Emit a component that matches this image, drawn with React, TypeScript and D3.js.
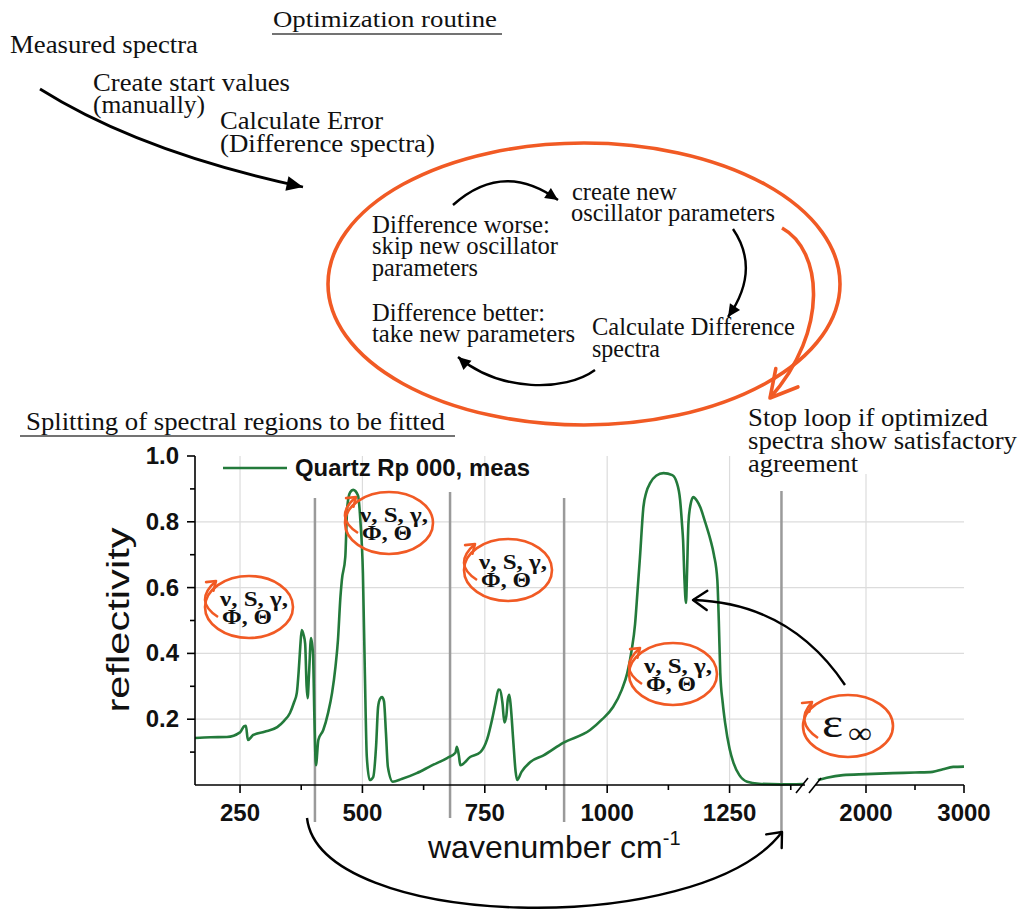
import React from 'react';
import * as d3 from 'd3';

// Measured reflectivity of quartz (Rp), low-wavenumber part of the broken axis
const lowWavenumber = [
  158, 190, 223, 250, 258, 262, 266, 277, 300, 326, 340, 352, 360, 366, 370, 373, 376, 380, 383, 386,
  388, 391, 395, 399, 402, 405, 410, 420, 430, 438, 445, 450, 455, 458, 465, 469, 475, 481, 491, 496,
  501, 505, 509, 515, 522, 528, 532, 536, 540, 544, 548, 552, 562, 580, 611, 640, 673, 690, 693, 697,
  700, 720, 741, 755, 765, 772, 778, 781, 786, 790, 794, 797, 800, 803, 808, 813, 816, 825, 843, 870,
  910, 965, 990, 1012, 1030, 1041, 1050, 1057, 1062, 1067, 1074, 1080, 1088, 1100, 1115, 1133, 1142, 1149, 1153, 1155,
  1158, 1161, 1163, 1166, 1170, 1176, 1183, 1190, 1200, 1211, 1218, 1225, 1228, 1231, 1236, 1241, 1250, 1258, 1270, 1286,
  1310, 1354, 1400,
];
const lowReflectivity = [
  0.143, 0.145, 0.146, 0.16, 0.178, 0.18, 0.137, 0.152, 0.162, 0.176, 0.195, 0.219, 0.25, 0.28, 0.35, 0.42, 0.471, 0.455, 0.43, 0.3,
  0.264, 0.34, 0.447, 0.4, 0.2, 0.06, 0.137, 0.167, 0.22, 0.28, 0.36, 0.44, 0.57, 0.623, 0.693, 0.845, 0.89, 0.897, 0.88, 0.8,
  0.644, 0.34, 0.085, 0.015, 0.024, 0.12, 0.237, 0.262, 0.267, 0.255, 0.16, 0.055, 0.01, 0.018, 0.036, 0.058, 0.082, 0.098, 0.116, 0.09,
  0.06, 0.085, 0.1, 0.14, 0.2, 0.25, 0.29, 0.289, 0.25, 0.19, 0.21, 0.26, 0.274, 0.24, 0.137, 0.04, 0.015, 0.04, 0.07, 0.09,
  0.128, 0.167, 0.2, 0.237, 0.29, 0.34, 0.41, 0.49, 0.59, 0.693, 0.845, 0.89, 0.918, 0.94, 0.948, 0.942, 0.92, 0.866, 0.79, 0.745,
  0.62, 0.553, 0.64, 0.796, 0.85, 0.875, 0.865, 0.845, 0.8, 0.745, 0.7, 0.623, 0.5, 0.34, 0.25, 0.188, 0.11, 0.067, 0.03, 0.01,
  0.004, 0.002, 0.003,
];

// High-wavenumber part, after the axis break
const highWavenumber = [1510, 1600, 1765, 2000, 2275, 2500, 2680, 2785, 2890, 3000];
const highReflectivity = [0.015, 0.022, 0.03, 0.033, 0.036, 0.038, 0.04, 0.048, 0.055, 0.056];

const yTicks = [0.2, 0.4, 0.6, 0.8, 1.0];
const yMinorTicks = [0.1, 0.3, 0.5, 0.7, 0.9];
const lowTicks = [250, 500, 750, 1000, 1250];
const lowMinorTicks = [375, 625, 875, 1125, 1375];
const highTicks = [2000, 3000];
const highMinorTicks = [2500];

// Boundaries of the spectral regions fitted separately (cm-1)
const regionBounds = [403, 679, 912, 1356];

const seriesName = 'Quartz Rp 000, meas';

// ---- layout ----
const W = 1023;
const H = 913;
const SERIF = "'Liberation Serif', 'Times New Roman', serif";
const SANS = "'Liberation Sans', Arial, sans-serif";
const GREEN = '#237a3b';
const ORANGE = '#f15a24';
const GRID = '#dcdcdc';
const SEP = '#9a9a9a';

const xLow = d3.scaleLinear().domain([158, 1400]).range([195, 803]);
const xHigh = d3.scaleLinear().domain([1500, 3000]).range([817, 964]);
const y = d3.scaleLinear().domain([0, 1]).range([785, 456]);

const separatorTop = [498, 492, 498, 491];
const separatorBottom = [822, 818, 822, 833];

// oscillator parameter badges
const badges = [
  { cx: 249, cy: 607 },
  { cx: 389, cy: 523 },
  { cx: 508, cy: 570 },
  { cx: 673, cy: 674 },
];

type P = [number, number];

function head(tip: P, from: P, len: number, half: number): P[] {
  const a = Math.atan2(tip[1] - from[1], tip[0] - from[0]);
  return [
    [tip[0] - len * Math.cos(a - half), tip[1] - len * Math.sin(a - half)],
    tip,
    [tip[0] - len * Math.cos(a + half), tip[1] - len * Math.sin(a + half)],
  ];
}

const pts = (p: P[]) => p.map((q) => q.join(',')).join(' ');

function FilledHead({ tip, from, len = 15, half = 0.42 }: { tip: P; from: P; len?: number; half?: number }) {
  return <polygon points={pts(head(tip, from, len, half))} fill="#000" />;
}

function OpenHead({ tip, from, len, half, color, width }: { tip: P; from: P; len: number; half: number; color: string; width: number }) {
  return <polyline points={pts(head(tip, from, len, half))} fill="none" stroke={color} strokeWidth={width} strokeLinecap="round" strokeLinejoin="round" />;
}

function SerifText({ x, y: yy, len, size = 26, children }: { x: number; y: number; len: number; size?: number; children: React.ReactNode }) {
  return (
    <text x={x} y={yy} fontFamily={SERIF} fontSize={size} textLength={len} lengthAdjust="spacingAndGlyphs" fill="#111">
      {children}
    </text>
  );
}

function Badge({ cx, cy }: { cx: number; cy: number }) {
  const start: P = [cx - 31, cy + 10];
  const ctrl: P = [cx - 56, cy - 6];
  const end: P = [cx - 33, cy - 26];
  return (
    <g>
      <ellipse cx={cx} cy={cy} rx={44} ry={31} fill="none" stroke={ORANGE} strokeWidth={2.6} />
      <path d={`M${start} Q${ctrl} ${end}`} fill="none" stroke={ORANGE} strokeWidth={2.6} />
      <OpenHead tip={end} from={ctrl} len={10} half={0.6} color={ORANGE} width={2.6} />
      <text x={cx - 29} y={cy - 1} fontFamily={SERIF} fontWeight="bold" fontSize={21} textLength={68} lengthAdjust="spacingAndGlyphs" fill="#111">
        ν, S, γ,
      </text>
      <text x={cx - 27} y={cy + 17} fontFamily={SERIF} fontWeight="bold" fontSize={21} textLength={50} lengthAdjust="spacingAndGlyphs" fill="#111">
        Φ, Θ
      </text>
    </g>
  );
}

export default function App() {
  const lowData: P[] = lowWavenumber.map((v, i) => [v, lowReflectivity[i]]);
  const highData: P[] = highWavenumber.map((v, i) => [v, highReflectivity[i]]);
  const lowLine = d3.line<P>().x((d) => xLow(d[0])).y((d) => y(d[1])).curve(d3.curveMonotoneX);
  const highLine = d3.line<P>().x((d) => xHigh(d[0])).y((d) => y(d[1])).curve(d3.curveMonotoneX);

  const y0 = y(0);
  const yTop = y(1);
  const x0 = xLow.range()[0];
  const xEnd = xHigh.range()[1];

  // curved arrows of the flow diagram
  const measuredArrow = { s: [40, 89] as P, c: [140, 152] as P, e: [303, 187] as P };
  const topArrow = { s: [453, 205] as P, c: [503, 160] as P, e: [558, 200] as P };
  const rightArrow = { s: [733, 229] as P, c: [761, 270] as P, e: [728, 317] as P };
  const epsArrow = { s: [845, 685] as P, c: [790, 603] as P, e: [693, 600] as P };

  return (
    <svg width={W} height={H} viewBox={`0 0 ${W} ${H}`} style={{ position: 'absolute', left: 0, top: 0, background: '#fff' }}>
      <rect width={W} height={H} fill="#fff" />

      {/* ---------- chart: grid ---------- */}
      <g stroke={GRID} strokeWidth={1.2}>
        {yTicks.filter((t) => t < 1).map((t) => (
          <line key={`gy${t}`} x1={x0} x2={xEnd} y1={y(t)} y2={y(t)} />
        ))}
        {lowTicks.map((t) => (
          <line key={`gl${t}`} x1={xLow(t)} x2={xLow(t)} y1={yTop} y2={y0} />
        ))}
        {highTicks.filter((t) => t < 3000).map((t) => (
          <line key={`gh${t}`} x1={xHigh(t)} x2={xHigh(t)} y1={yTop} y2={y0} />
        ))}
      </g>

      {/* region separators */}
      <g stroke={SEP} strokeWidth={2.5}>
        {regionBounds.map((b, i) => (
          <line key={`sep${b}`} x1={xLow(b)} x2={xLow(b)} y1={separatorTop[i]} y2={separatorBottom[i]} />
        ))}
      </g>

      {/* spectrum */}
      <path d={lowLine(lowData) ?? ''} fill="none" stroke={GREEN} strokeWidth={2.6} strokeLinejoin="round" />
      <path d={highLine(highData) ?? ''} fill="none" stroke={GREEN} strokeWidth={2.6} strokeLinejoin="round" />

      {/* axes */}
      <g stroke="#000" strokeWidth={1.6} fill="none">
        <line x1={x0} x2={x0} y1={yTop} y2={y0} />
        <line x1={x0} x2={805} y1={y0} y2={y0} />
        <line x1={815} x2={xEnd} y1={y0} y2={y0} />
        {yTicks.map((t) => (
          <line key={`yt${t}`} x1={x0 - 8} x2={x0} y1={y(t)} y2={y(t)} />
        ))}
        {yMinorTicks.map((t) => (
          <line key={`ym${t}`} x1={x0 - 5} x2={x0} y1={y(t)} y2={y(t)} />
        ))}
        {lowTicks.map((t) => (
          <line key={`xt${t}`} x1={xLow(t)} x2={xLow(t)} y1={y0} y2={y0 + 8} />
        ))}
        {lowMinorTicks.map((t) => (
          <line key={`xm${t}`} x1={xLow(t)} x2={xLow(t)} y1={y0} y2={y0 + 5} />
        ))}
        {highTicks.map((t) => (
          <line key={`ht${t}`} x1={xHigh(t)} x2={xHigh(t)} y1={y0} y2={y0 + 8} />
        ))}
        {highMinorTicks.map((t) => (
          <line key={`hm${t}`} x1={xHigh(t)} x2={xHigh(t)} y1={y0} y2={y0 + 5} />
        ))}
        {/* axis break */}
        <line x1={796} y1={793} x2={808} y2={778} />
        <line x1={809} y1={793} x2={821} y2={778} />
      </g>

      {/* tick labels */}
      <g fontFamily={SANS} fontWeight="bold" fontSize={24} fill="#111">
        {yTicks.map((t) => (
          <text key={`yl${t}`} x={179} y={y(t) + 8} textAnchor="end">
            {d3.format('.1f')(t)}
          </text>
        ))}
        {lowTicks.map((t) => (
          <text key={`xl${t}`} x={xLow(t)} y={821} textAnchor="middle">
            {t}
          </text>
        ))}
        {highTicks.map((t) => (
          <text key={`hl${t}`} x={xHigh(t)} y={821} textAnchor="middle">
            {t}
          </text>
        ))}
      </g>

      {/* axis titles */}
      <text x={428} y={858} fontFamily={SANS} fontSize={32} fill="#111">
        wavenumber cm
        <tspan fontSize={20} dy={-13}>-1</tspan>
      </text>
      <text
        transform="translate(129,620) rotate(-90)"
        textAnchor="middle"
        fontFamily={SANS}
        fontSize={32}
        fill="#111"
        textLength={185}
        lengthAdjust="spacingAndGlyphs"
      >
        reflectivity
      </text>

      {/* legend */}
      <line x1={223} x2={287} y1={468} y2={468} stroke={GREEN} strokeWidth={2.6} />
      <text x={295} y={476} fontFamily={SANS} fontWeight="bold" fontSize={24} fill="#111" textLength={235} lengthAdjust="spacingAndGlyphs">
        {seriesName}
      </text>

      {/* oscillator badges */}
      {badges.map((b, i) => (
        <Badge key={i} cx={b.cx} cy={b.cy} />
      ))}

      {/* epsilon infinity badge */}
      <g>
        <ellipse cx={848} cy={726} rx={45} ry={31} fill="none" stroke={ORANGE} strokeWidth={2.6} />
        <path d="M818,738 Q794,722 812,702" fill="none" stroke={ORANGE} strokeWidth={2.6} />
        <OpenHead tip={[812, 702]} from={[800, 712]} len={10} half={0.6} color={ORANGE} width={2.6} />
        <text x={822} y={737} fontFamily={SERIF} fontSize={42} fill="#111" textLength={21} lengthAdjust="spacingAndGlyphs">
          ε
        </text>
        <text x={848} y={743} fontFamily={SERIF} fontSize={30} fill="#111" textLength={24} lengthAdjust="spacingAndGlyphs">
          ∞
        </text>
      </g>
      <path d={`M${epsArrow.s} Q${epsArrow.c} ${epsArrow.e}`} fill="none" stroke="#000" strokeWidth={2.4} />
      <OpenHead tip={epsArrow.e} from={epsArrow.c} len={17} half={0.6} color="#000" width={2.4} />

      {/* arrow under the axis: from first region to the last boundary */}
      <path d="M307,818 C320,930 700,940 782,832" fill="none" stroke="#000" strokeWidth={2.4} />
      <OpenHead tip={[782, 832]} from={[768, 848]} len={16} half={0.7} color="#000" width={2.4} />

      {/* ---------- flow diagram ---------- */}
      <SerifText x={273} y={27} len={224} size={24}>Optimization routine</SerifText>
      <line x1={272} x2={502} y1={34} y2={34} stroke="#444" strokeWidth={1.5} />

      <SerifText x={10} y={53} len={188}>Measured spectra</SerifText>
      <SerifText x={93} y={91} len={197}>Create start values</SerifText>
      <SerifText x={93} y={113} len={112}>(manually)</SerifText>
      <SerifText x={220} y={129} len={163}>Calculate Error</SerifText>
      <SerifText x={220} y={152} len={215}>(Difference spectra)</SerifText>

      <path d={`M${measuredArrow.s} Q${measuredArrow.c} ${measuredArrow.e}`} fill="none" stroke="#000" strokeWidth={2.8} />
      <FilledHead tip={measuredArrow.e} from={measuredArrow.c} len={18} half={0.42} />

      {/* optimisation loop */}
      <ellipse cx={584} cy={284} rx={256} ry={141} fill="none" stroke={ORANGE} strokeWidth={3.6} />
      <path d="M782,228 C822,250 830,330 770,398" fill="none" stroke={ORANGE} strokeWidth={3.6} />
      <OpenHead tip={[770, 398]} from={[800, 362]} len={30} half={0.5} color={ORANGE} width={3.6} />

      <SerifText x={572} y={200} len={105}>create new</SerifText>
      <SerifText x={571} y={221} len={204}>oscillator parameters</SerifText>
      <SerifText x={372} y={233} len={178}>Difference worse:</SerifText>
      <SerifText x={372} y={254} len={186}>skip new oscillator</SerifText>
      <SerifText x={372} y={276} len={106}>parameters</SerifText>
      <SerifText x={372} y={321} len={173}>Difference better:</SerifText>
      <SerifText x={372} y={342} len={203}>take new parameters</SerifText>
      <SerifText x={592} y={335} len={203}>Calculate Difference</SerifText>
      <SerifText x={592} y={357} len={68}>spectra</SerifText>

      <path d={`M${topArrow.s} Q${topArrow.c} ${topArrow.e}`} fill="none" stroke="#000" strokeWidth={2.4} />
      <FilledHead tip={topArrow.e} from={[540, 188]} len={14} half={0.45} />
      <path d={`M${rightArrow.s} Q${rightArrow.c} ${rightArrow.e}`} fill="none" stroke="#000" strokeWidth={2.4} />
      <FilledHead tip={rightArrow.e} from={[738, 302]} len={14} half={0.45} />
      <path d="M595,370 C565,392 500,392 458,357" fill="none" stroke="#000" strokeWidth={2.4} />
      <FilledHead tip={[458, 357]} from={[474, 371]} len={14} half={0.45} />

      {/* stop criterion */}
      <rect x={745} y={404} width={278} height={70} fill="#fff" />
      <SerifText x={748} y={426} len={240}>Stop loop if optimized</SerifText>
      <SerifText x={748} y={449} len={269}>spectra show satisfactory</SerifText>
      <SerifText x={748} y={472} len={110}>agreement</SerifText>

      <SerifText x={26} y={430} len={419}>Splitting of spectral regions to be fitted</SerifText>
      <line x1={20} x2={455} y1={436} y2={436} stroke="#444" strokeWidth={1.5} />
    </svg>
  );
}
